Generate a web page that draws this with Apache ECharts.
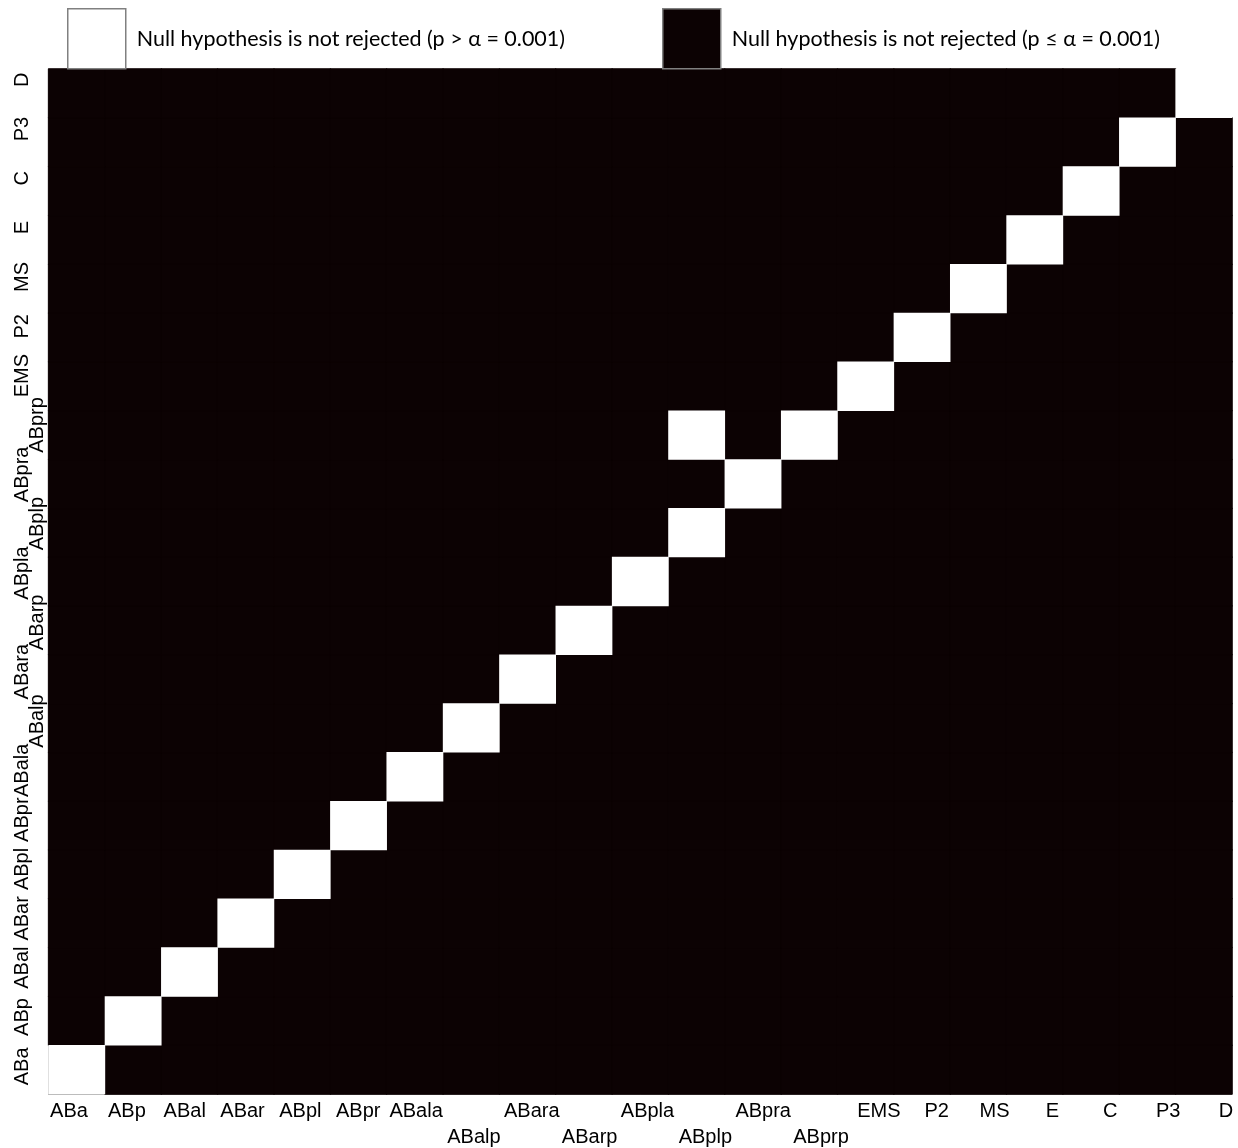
<!DOCTYPE html>
<html>
<head>
<meta charset="utf-8">
<style>
  html, body { margin: 0; padding: 0; background: #ffffff; }
  #chart { width: 1238px; height: 1148px; }
</style>
<script src="https://cdn.jsdelivr.net/npm/echarts@6/dist/echarts.min.js"></script>
</head>
<body>
<div id="chart"></div>
<script>
// Categories (bottom-to-top on y, left-to-right on x)
const categories = ['ABa','ABp','ABal','ABar','ABpl','ABpr','ABala','ABalp','ABara','ABarp','ABpla','ABplp','ABpra','ABprp','EMS','P2','MS','E','C','P3','D'];
// Labels drawn on the second (staggered) line
const staggeredLabels = ['ABalp','ABarp','ABplp','ABprp'];
// Legend texts
const legendNotRejected = 'Null hypothesis is not rejected (p > α = 0.001)';
const legendRejected = 'Null hypothesis is not rejected (p ≤ α = 0.001)';
// Test outcome matrix: rows = y category (from ABa at bottom to D at top), columns = x category
// 1 = rejected (black), 0 = not rejected (white)
const rowABa   = [0,1,1,1,1,1,1,1,1,1,1,1,1,1,1,1,1,1,1,1,1];
const rowABp   = [1,0,1,1,1,1,1,1,1,1,1,1,1,1,1,1,1,1,1,1,1];
const rowABal  = [1,1,0,1,1,1,1,1,1,1,1,1,1,1,1,1,1,1,1,1,1];
const rowABar  = [1,1,1,0,1,1,1,1,1,1,1,1,1,1,1,1,1,1,1,1,1];
const rowABpl  = [1,1,1,1,0,1,1,1,1,1,1,1,1,1,1,1,1,1,1,1,1];
const rowABpr  = [1,1,1,1,1,0,1,1,1,1,1,1,1,1,1,1,1,1,1,1,1];
const rowABala = [1,1,1,1,1,1,0,1,1,1,1,1,1,1,1,1,1,1,1,1,1];
const rowABalp = [1,1,1,1,1,1,1,0,1,1,1,1,1,1,1,1,1,1,1,1,1];
const rowABara = [1,1,1,1,1,1,1,1,0,1,1,1,1,1,1,1,1,1,1,1,1];
const rowABarp = [1,1,1,1,1,1,1,1,1,0,1,1,1,1,1,1,1,1,1,1,1];
const rowABpla = [1,1,1,1,1,1,1,1,1,1,0,1,1,1,1,1,1,1,1,1,1];
const rowABplp = [1,1,1,1,1,1,1,1,1,1,1,0,1,1,1,1,1,1,1,1,1];
const rowABpra = [1,1,1,1,1,1,1,1,1,1,1,1,0,1,1,1,1,1,1,1,1];
const rowABprp = [1,1,1,1,1,1,1,1,1,1,1,0,1,0,1,1,1,1,1,1,1];
const rowEMS   = [1,1,1,1,1,1,1,1,1,1,1,1,1,1,0,1,1,1,1,1,1];
const rowP2    = [1,1,1,1,1,1,1,1,1,1,1,1,1,1,1,0,1,1,1,1,1];
const rowMS    = [1,1,1,1,1,1,1,1,1,1,1,1,1,1,1,1,0,1,1,1,1];
const rowE     = [1,1,1,1,1,1,1,1,1,1,1,1,1,1,1,1,1,0,1,1,1];
const rowC     = [1,1,1,1,1,1,1,1,1,1,1,1,1,1,1,1,1,1,0,1,1];
const rowP3    = [1,1,1,1,1,1,1,1,1,1,1,1,1,1,1,1,1,1,1,0,1];
const rowD     = [1,1,1,1,1,1,1,1,1,1,1,1,1,1,1,1,1,1,1,1,0];

const rows = [rowABa,rowABp,rowABal,rowABar,rowABpl,rowABpr,rowABala,rowABalp,rowABara,rowABarp,
              rowABpla,rowABplp,rowABpra,rowABprp,rowEMS,rowP2,rowMS,rowE,rowC,rowP3,rowD];

const whiteCells = [], blackCells = [];
rows.forEach((row, yi) => row.forEach((v, xi) => {
  (v === 1 ? blackCells : whiteCells).push([xi, yi, v]);
}));

const BLACK = '#0c0203';
const labelFont = { fontFamily: 'Liberation Sans', fontSize: 20, color: '#000' };
const isStag = (i, v) => staggeredLabels.indexOf(categories[i]) >= 0;

const chart = echarts.init(document.getElementById('chart'), null, { renderer: 'canvas' });
const legendCommon = {
  orient: 'horizontal', icon: 'rect', itemWidth: 58, itemHeight: 60, top: 3,
  selectedMode: false,
  itemStyle: { borderColor: '#808080', borderWidth: 1.5 },
  textStyle: { fontFamily: 'Lato', fontSize: 21.5, color: '#000', padding: [0, 0, 0, 6] }
};
chart.setOption({
  animation: false,
  backgroundColor: '#ffffff',
  legend: [
    Object.assign({}, legendCommon, { left: 62, data: [legendNotRejected] }),
    Object.assign({}, legendCommon, { left: 657, data: [legendRejected] })
  ],
  grid: [
    { left: 48.6, top: 69, width: 1183.4, height: 1025 },
    { left: 69, top: 69, width: 1157, height: 1025 },
    { left: 48.6, top: 55, width: 1183.4, height: 1036 }
  ],
  xAxis: [
    { gridIndex: 0, type: 'category', data: categories,
      axisLine: { show: true, lineStyle: { color: '#a6a6a6', width: 1 } },
      axisTick: { show: false }, axisLabel: { show: false }, splitLine: { show: false } },
    { gridIndex: 1, type: 'category', data: categories, boundaryGap: false,
      axisLine: { show: false }, axisTick: { show: false }, splitLine: { show: false },
      axisLabel: Object.assign({ interval: (i, v) => !isStag(i, v), margin: 7 }, labelFont) },
    { gridIndex: 1, type: 'category', data: categories, boundaryGap: false, position: 'bottom', offset: 0,
      axisLine: { show: false }, axisTick: { show: false }, splitLine: { show: false },
      axisLabel: Object.assign({ interval: (i, v) => isStag(i, v), margin: 33 }, labelFont) },
    { gridIndex: 2, type: 'category', data: categories, show: false }
  ],
  yAxis: [
    { gridIndex: 0, type: 'category', data: categories,
      axisLine: { show: true, lineStyle: { color: '#a6a6a6', width: 1 } },
      axisTick: { show: false }, axisLabel: { show: false }, splitLine: { show: false } },
    { gridIndex: 1, type: 'category', data: categories, show: false },
    { gridIndex: 2, type: 'category', data: categories, position: 'left', offset: 0,
      axisLine: { show: false }, axisTick: { show: false }, splitLine: { show: false },
      axisLabel: Object.assign({ interval: (i, v) => !isStag(i, v), rotate: 90, margin: 16 }, labelFont) },
    { gridIndex: 2, type: 'category', data: categories, position: 'left', offset: 0,
      axisLine: { show: false }, axisTick: { show: false }, splitLine: { show: false },
      axisLabel: Object.assign({ interval: (i, v) => isStag(i, v), rotate: 90, margin: 1 }, labelFont) }
  ],
  series: [
    { name: legendRejected, type: 'heatmap', xAxisIndex: 0, yAxisIndex: 0,
      data: blackCells, itemStyle: { color: BLACK, borderColor: BLACK, borderWidth: 1 },
      emphasis: { disabled: true } },
    { name: legendNotRejected, type: 'heatmap', xAxisIndex: 0, yAxisIndex: 0,
      data: whiteCells, itemStyle: { color: '#ffffff' }, emphasis: { disabled: true } }
  ]
});
</script>
</body>
</html>
